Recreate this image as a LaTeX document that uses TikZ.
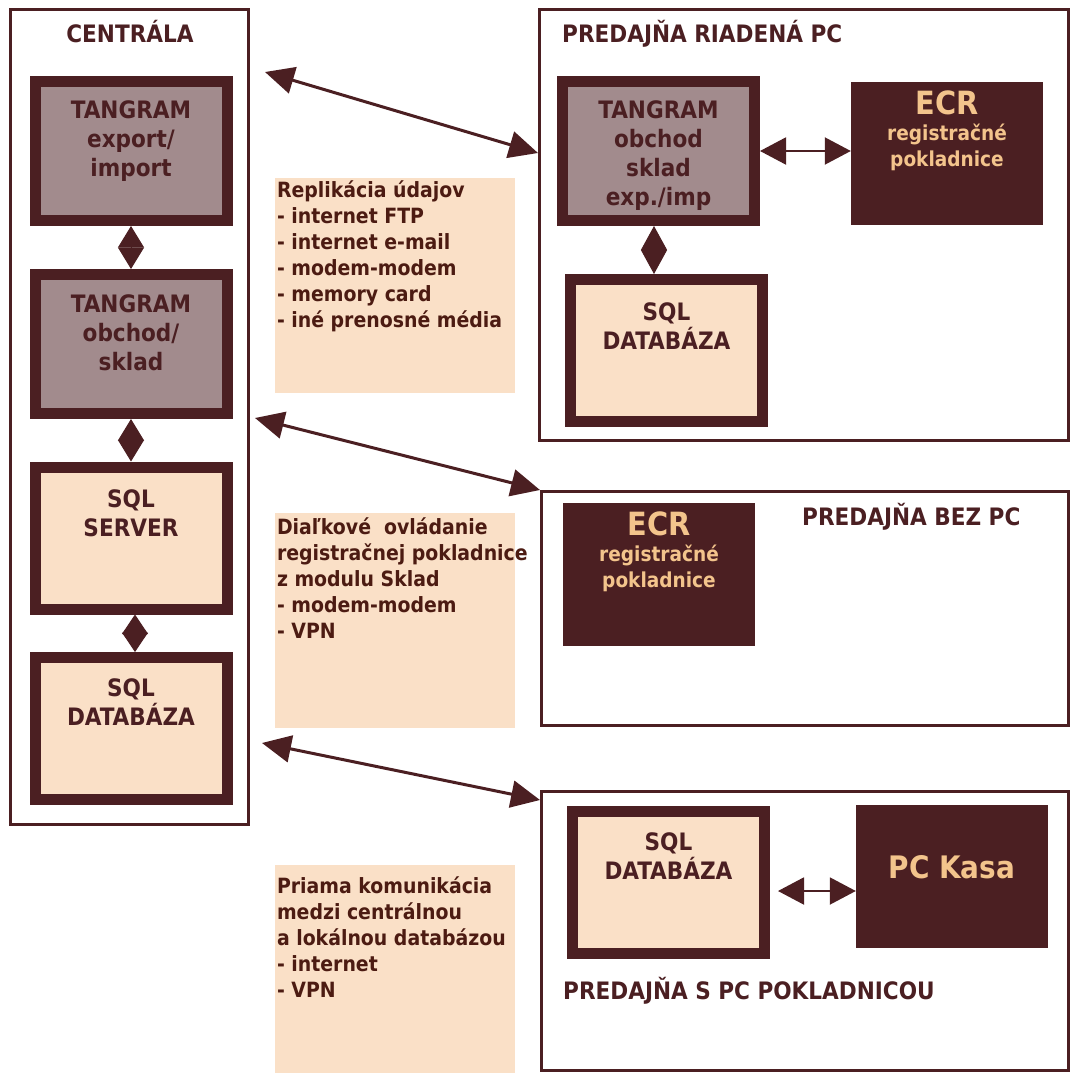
\documentclass[tikz,border=0pt]{standalone}
\usepackage{fontspec}
\setmainfont{DejaVu Sans Condensed}
\usepackage{tikz}
\usetikzlibrary{arrows.meta}
\usetikzlibrary{positioning}
\definecolor{dkbrown}{RGB}{75,31,34}
\definecolor{mauve}{RGB}{162,139,141}
\definecolor{peach}{RGB}{250,224,199}
\definecolor{ecrtext}{RGB}{243,196,140}
\definecolor{notetext}{RGB}{76,27,18}
\tikzstyle{frame}=[draw=dkbrown,line width=3pt,inner sep=0pt]
\tikzstyle{mauvebox}=[draw=dkbrown,line width=11pt,fill=mauve,inner sep=0pt,minimum width=192pt,minimum height=139pt]
\tikzstyle{peachbox}=[mauvebox,fill=peach,minimum height=142pt]
\tikzstyle{darkbox}=[fill=dkbrown,inner sep=0pt,minimum width=192pt,minimum height=143pt]
\tikzstyle{notebox}=[fill=peach,inner sep=0pt,minimum width=240pt,minimum height=215pt]
\tikzstyle{title}=[font=\bfseries\fontsize{24}{29}\selectfont,text=dkbrown,inner sep=0pt]
\tikzstyle{boxtext}=[title,align=center]
\tikzstyle{ecrlabel}=[font=\bfseries\fontsize{20.6}{26}\selectfont,text=ecrtext,align=center,inner sep=0pt]
\tikzstyle{notelabel}=[font=\bfseries\fontsize{21}{26}\selectfont,text=notetext,align=left,inner sep=0pt]
\tikzstyle{biglink}=[draw=dkbrown,line width=3pt,{Triangle[length=29pt,width=27pt]}-{Triangle[length=29pt,width=27pt]}]
\tikzstyle{shortlink}=[draw=dkbrown,line width=2pt,{Triangle[length=26pt,width=27pt]}-{Triangle[length=26pt,width=27pt]}]
\tikzstyle{vlink}=[draw=dkbrown,line width=1pt,{Triangle[length=21.5pt,width=26pt]}-{Triangle[length=21.5pt,width=26pt]}]
\begin{document}
\begin{tikzpicture}[x=1pt,y=-1pt]
    \useasboundingbox (0,0) rectangle (1074,1073);
    % The four sites
    \foreach \pos/\w/\h/\name in {{(129.5,417)/238/815/centrala}, {(804,225)/529/431/riadena}, {(805,608.5)/527/234/bezpc}, {(805,931)/527/279/spc}}
        \node[frame, minimum width=\w pt, minimum height=\h pt] (\name) at \pos {};

    \node[title, anchor=base] (tcentrala) at (130,43) {CENTRÁLA};
    \node[title, anchor=base west] (triadena) at (562,43) {PREDAJŇA RIADENÁ PC};
    \node[title, anchor=base west] (tbezpc) at (802,525) {PREDAJŇA BEZ PC};
    \node[title, anchor=base west] (tspc) at (563,999) {PREDAJŇA S PC POKLADNICOU};

    % Then the boxes
    \foreach \pos/\name in {{(131,151)/tgexp}, {(131,344)/tgobch}, {(658.5,151)/tgpred}}
        \node[mauvebox] (\name) at \pos {};
    \foreach \pos/\name in {{(131,538)/sqlsrv}, {(131,728.5)/sqldb}, {(666.5,350.5)/sqldbr}, {(668.5,882.5)/sqldbs}}
        \node[peachbox] (\name) at \pos {};
    \foreach \pos/\name in {{(947,153.5)/ecrr}, {(659,574)/ecrb}, {(952,876)/pckasa}}
        \node[darkbox] (\name) at \pos {};

    \foreach \name/\off/\txt in {tgexp/24pt/{TANGRAM\\export/\\import}, tgobch/25pt/{TANGRAM\\obchod/\\sklad}, tgpred/24pt/{TANGRAM\\obchod\\sklad\\exp./imp}, sqlsrv/28pt/{SQL\\SERVER}, sqldb/26pt/{SQL\\DATABÁZA}, sqldbr/28pt/{SQL\\DATABÁZA}, sqldbs/26pt/{SQL\\DATABÁZA}}
        \node[boxtext, below=\off of \name.north] (\name-l) {\txt};

    \foreach \name/\off in {ecrr/8.5pt, ecrb/9.5pt}
        \node[ecrlabel, below=\off of \name.north] (\name-l) {{\fontsize{32}{30}\selectfont ECR}\\registračné\\pokladnice};
    \node[ecrlabel, font=\bfseries\fontsize{31}{30}\selectfont, above=-21pt of pckasa.north, yshift=-54pt] (pckasa-l) {PC Kasa};

    % Notes on the links
    \foreach \pos/\name in {{(395,285.5)/repl}, {(395,620.5)/dial}, {(395,972.5)/priama}}
        \node[notebox] (\name) at \pos {};
    \foreach \name/\off/\txt in {repl/3pt/{Replikácia údajov\\- internet FTP\\- internet e-mail\\- modem-modem\\- memory card\\- iné prenosné média}, dial/5pt/{Diaľkové~ ovládanie\\registračnej pokladnice\\z modulu Sklad\\- modem-modem\\- VPN}, priama/12pt/{Priama komunikácia\\medzi centrálnou\\a lokálnou databázou\\- internet\\- VPN}}
        \node[notelabel, below right=\off and 2pt of \name.north west] (\name-l) {\txt};

    % Links between centrala and the shops
    \coordinate (c1) at (265,72);
    \coordinate (c2) at (255,418);
    \coordinate (c3) at (262,743);
    \coordinate (r1) at (riadena.west |- 0,153);
    \coordinate (r2) at (bezpc.north west);
    \coordinate (r3) at (spc.west |- 0,800);
    \foreach \source/\dest in {c1/r1, c2/r2, c3/r3}
        \path[biglink] (\source) -- (\dest);

    % Links inside the sites
    \foreach \source/\dest in {tgexp/tgobch, tgobch/sqlsrv}
        \path[vlink] (\source.south) -- (\dest.north);
    \path[vlink, {Triangle[length=19.5pt,width=26pt]}-{Triangle[length=19.5pt,width=26pt]}] ([xshift=4pt]sqlsrv.south) -- ([xshift=4pt]sqldb.north);
    \path[vlink, {Triangle[length=24pt,width=26pt]}-{Triangle[length=24pt,width=26pt]}] ([xshift=-4.5pt]tgpred.south) -- ([xshift=-12.5pt]sqldbr.north);
    \path[shortlink] (tgpred.east) -- (ecrr.west |- tgpred.east);
    \path[shortlink] ([xshift=8pt,yshift=-8.5pt]sqldbs.east) -- ([yshift=-15pt]pckasa.west);
\end{tikzpicture}
\end{document}
